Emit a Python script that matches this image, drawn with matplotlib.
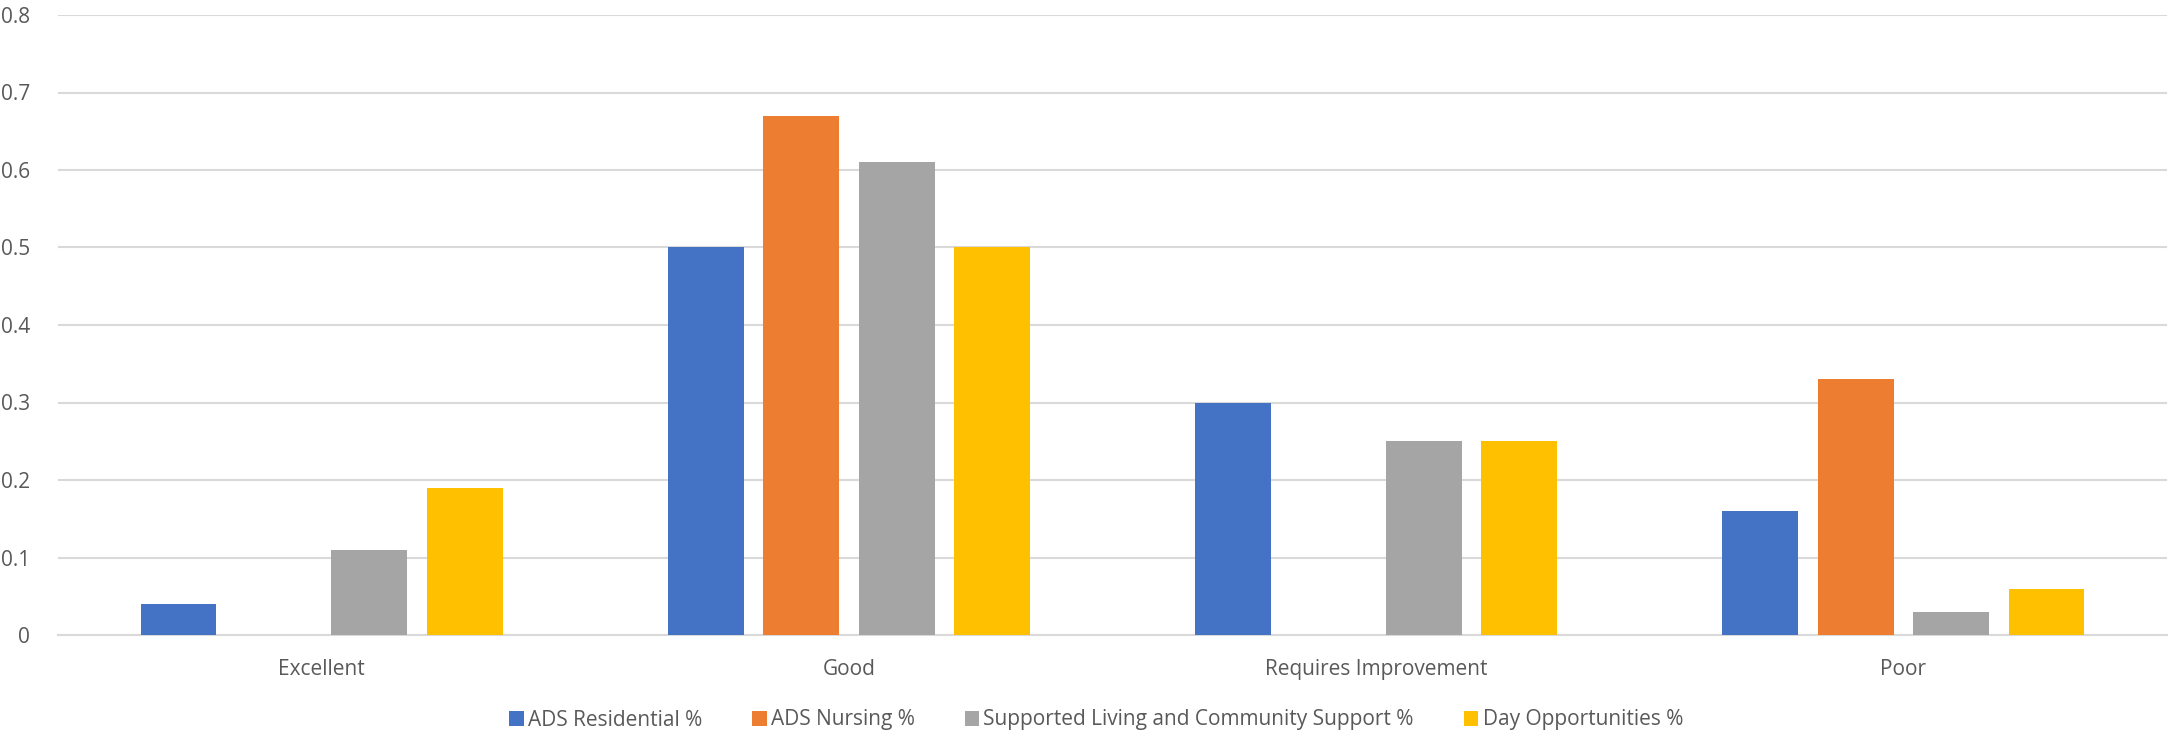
import matplotlib.pyplot as plt
import numpy as np

categories = ['Excellent', 'Good', 'Requires Improvement', 'Poor']
series_names = ['ADS Residential %', 'ADS Nursing %',
                'Supported Living and Community Support %', 'Day Opportunities %']
ads_residential = [0.04, 0.50, 0.30, 0.16]
ads_nursing = [0.0, 0.67, 0.0, 0.33]
supported_living = [0.11, 0.61, 0.25, 0.03]
day_opportunities = [0.19, 0.50, 0.25, 0.06]
yticks = [0, 0.1, 0.2, 0.3, 0.4, 0.5, 0.6, 0.7, 0.8]
ytick_labels = ['0', '0.1', '0.2', '0.3', '0.4', '0.5', '0.6', '0.7', '0.8']

colors = ['#4472C4', '#ED7D31', '#A5A5A5', '#FFC000']
text_col = '#595959'
grid_col = '#D9D9D9'

plt.rcParams['font.family'] = ['Open Sans', 'DejaVu Sans']

fig = plt.figure(figsize=(21.68, 7.35), dpi=100)
ax = fig.add_axes([58 / 2168, 100 / 735, 2109 / 2168, 620 / 735])

x = np.arange(len(categories))
width = 0.144
step = 0.181
all_series = [ads_residential, ads_nursing, supported_living, day_opportunities]
for i, vals in enumerate(all_series):
    ax.bar(x + (i - 1.5) * step, vals, width, color=colors[i],
           label=series_names[i], zorder=3)

ax.set_xlim(-0.5, 3.5)
ax.set_ylim(0, 0.8)
ax.set_yticks(yticks)
ax.set_yticklabels(ytick_labels)
ax.set_xticks(x)
ax.set_xticklabels(categories)
ax.tick_params(axis='both', length=0, labelsize=15, colors=text_col)
ax.tick_params(axis='y', pad=20)
ax.tick_params(axis='x', pad=17)
ax.grid(axis='y', color=grid_col, linewidth=1.5, zorder=0)
for s in ['top', 'right', 'left']:
    ax.spines[s].set_visible(False)
ax.spines['bottom'].set_color(grid_col)
ax.spines['bottom'].set_linewidth(1.5)

fig.legend(loc='center', bbox_to_anchor=(1096 / 2168, 1 - 720 / 735), ncol=4,
           frameon=False, fontsize=15, labelcolor=text_col,
           handlelength=0.7, handleheight=0.7, handletextpad=0.2,
           columnspacing=2.4)

fig.savefig('out.png', dpi=100)
